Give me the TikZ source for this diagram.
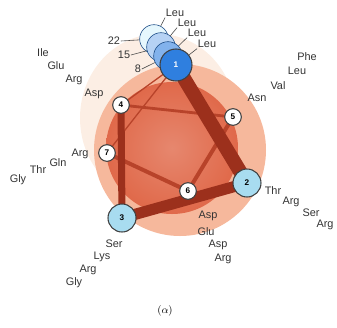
\documentclass[tikz,border=0pt]{standalone}
\usepackage{fontspec}
\setsansfont{Liberation Sans}
\usetikzlibrary{positioning, backgrounds}
\definecolor{bandred}{HTML}{9C301C}
\definecolor{thinred}{HTML}{B8432A}
\definecolor{blobred}{HTML}{E0694A}
\definecolor{ringpeach}{HTML}{F6B89C}
\definecolor{halopeach}{HTML}{FCEEE4}
\definecolor{cyanlight}{HTML}{A8DCF0}
\definecolor{helixblue}{HTML}{2F7FDF}

\begin{document}
\begin{tikzpicture}[
    x=0.03cm, y=-0.03cm,
    res/.style={font=\sffamily\fontsize{9.3}{9.3}\selectfont, text=black!80, inner sep=0.5pt},
    posn/.style={circle, draw=black!75, line width=0.9pt, fill=white, minimum size=0.5cm, inner sep=0pt, font=\sffamily\bfseries\fontsize{7}{7}\selectfont},
    bigposn/.style={posn, minimum size=0.84cm, fill=cyanlight},
    stack/.style={circle, draw=helixblue!60!black, line width=0.5pt, minimum size=0.86cm},
    band/.style={draw=bandred, line cap=round},
    tick/.style={draw=black!70, line width=0.5pt}
]
\useasboundingbox (0,0) rectangle (337,327);

% helix seen end on: 22, 15, 8 behind 1
\node[stack, fill=cyan!10] (c22) at (154,39) {};
\node[stack, fill=helixblue!35] (c15) at (161,47) {};
\node[stack, fill=helixblue!60] (c8) at (168,56) {};
\node[posn, minimum size=0.96cm, fill=helixblue, text=white] (n1) at (176,65) {1};

\node[bigposn] (n2) at (247,183) {2};
\node[bigposn] (n3) at (122,218) {3};
\node[posn] (n4) at (121,105) {4};
\node[posn] (n5) at (233,117) {5};
\node[posn] (n6) at (188,191) {6};
\node[posn] (n7) at (107,153) {7};

% position numbers
\node[res] (p22) at (114,41) {22};
\node[res] (p15) at (124,55) {15};
\node[res] (p8) at (138,69) {8};
\draw[tick] (p22.east) -- (c22);
\draw[tick] (p15.east) -- (c15);
\draw[tick] (p8.east) -- (c8);

% residues
\node[res] (leuA) at (175,13) {Leu};
\node[res] (leuB) at (187,23) {Leu};
\node[res] (leuC) at (197,33) {Leu};
\node[res] (leuD) at (207,44) {Leu};
\draw[tick] (leuA.south west) -- (c22);
\draw[tick] (leuB.south west) -- (c15);
\draw[tick] (leuC.south west) -- (c8);
\draw[tick] (leuD.south west) -- (n1);

\node[res] (ile) at (43,53) {Ile};
\node[res] (gluA) at (56,66) {Glu};
\node[res] (argA) at (74,80) {Arg};
\node[res] (aspA) at (94,94) {Asp};

\node[res] (phe) at (307,57) {Phe};
\node[res] (leuE) at (297,71) {Leu};
\node[res] (val) at (278,86) {Val};
\node[res] (asn) at (257,98) {Asn};

\node[res] (argB) at (80,154) {Arg};
\node[res] (gln) at (58,163) {Gln};
\node[res] (thrA) at (38,170) {Thr};
\node[res] (glyA) at (18,180) {Gly};

\node[res] (thrB) at (273,191) {Thr};
\node[res] (argC) at (291,202) {Arg};
\node[res] (ser) at (311,213) {Ser};
\node[res] (argD) at (325,225) {Arg};

\node[res] (aspB) at (208,216) {Asp};
\node[res] (gluB) at (206,232) {Glu};
\node[res] (aspC) at (218,245) {Asp};
\node[res] (argE) at (223,259) {Arg};

\node[res] (serB) at (114,244) {Ser};
\node[res] (lys) at (102,257) {Lys};
\node[res] (argF) at (88,270) {Arg};
\node[res] (glyB) at (74,283) {Gly};

\node[font=\small] (alpha) at (165,311) {$(\alpha)$};

\begin{scope}[on background layer]
  \fill[halopeach] (158,118) ellipse [x radius=78, y radius=84];
  \fill[ringpeach] (180,150) circle [radius=86];
  \shade[inner color=blobred!80, outer color=blobred] (172,148) circle [radius=66];
  % contacts
  \draw[band, draw=thinred, line width=1.1pt] (n1) -- (n7);
  \draw[band, draw=thinred, line width=1.1pt] (n1) -- (n4);
  \draw[band, draw=thinred, line width=2.4pt] (n4) -- (n5);
  \draw[band, draw=thinred, line width=3.4pt] (n7) -- (n6);
  \draw[band, draw=thinred, line width=3.4pt] (n6) -- (n5);
  \draw[band, line width=6pt] (n4.center) -- (n3.center);
  \draw[band, line width=9.5pt] (n2.center) -- (n3.center);
  \draw[band, line width=12pt] (n1.center) -- (n2.center);
\end{scope}

\end{tikzpicture}
\end{document}
